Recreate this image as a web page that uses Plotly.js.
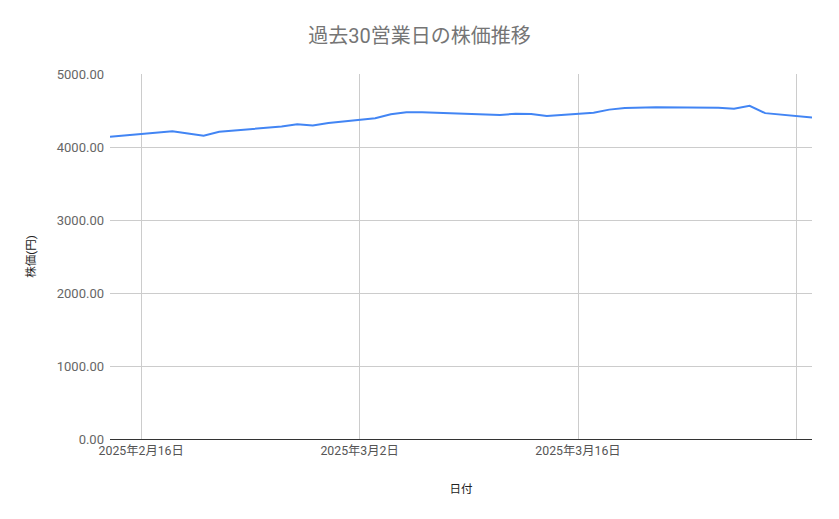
<!DOCTYPE html>
<html>
<head>
<meta charset="utf-8">
<script src="https://cdn.plot.ly/plotly-3.0.1.min.js"></script>
<style>
  body { margin: 0; background: #fff; }
  #graph { width: 839px; height: 519px; }
</style>
</head>
<body>
<div id="graph"></div>
<script>
// 営業日 (2/24, 3/20 は祝日)
var dates = [
  "2025-02-14", "2025-02-17", "2025-02-18", "2025-02-19", "2025-02-20", "2025-02-21",
  "2025-02-25", "2025-02-26", "2025-02-27", "2025-02-28",
  "2025-03-03", "2025-03-04", "2025-03-05", "2025-03-06", "2025-03-07",
  "2025-03-10", "2025-03-11", "2025-03-12", "2025-03-13", "2025-03-14",
  "2025-03-17", "2025-03-18", "2025-03-19", "2025-03-21",
  "2025-03-24", "2025-03-25", "2025-03-26", "2025-03-27", "2025-03-28",
  "2025-03-31"
]
var prices = [
  4140, 4195, 4217, 4186, 4155, 4210,
  4280, 4310, 4295, 4330,
  4393, 4448, 4477, 4477, 4468,
  4442, 4440, 4455, 4452, 4425,
  4470, 4512, 4534, 4545,
  4540, 4538, 4525, 4564, 4464,
  4404
]
var xTickVals = ["2025-02-16", "2025-03-02", "2025-03-16", "2025-03-30"]
var xTickText = ["2025年2月16日", "2025年3月2日", "2025年3月16日", ""]
var yTickVals = [0, 1000, 2000, 3000, 4000, 5000]

var trace1 = {
    x: dates,
    y: prices,
    type: "scatter",
    mode: "lines",
    name: "株価",
    line: {color: "#4285f4", width: 2},
    hoverinfo: "x+y"
}

var layout = {
    width: 839,
    height: 519,
    font: {family: "Roboto, 'Noto Sans CJK JP', sans-serif", color: "#666"},
    paper_bgcolor: "#fff",
    plot_bgcolor: "#fff",
    showlegend: false,
    margin: {l: 110, r: 27, t: 74, b: 80},
    title: {
        text: "過去30営業日の株価推移",
        font: {size: 20, color: "#757575", family: "Roboto, 'Noto Sans CJK JP', sans-serif"},
        x: 0.5,
        xanchor: "center",
        y: 0.93,
        yanchor: "middle"
    },
    xaxis: {
        type: "date",
        range: ["2025-02-14", "2025-03-31"],
        tickmode: "array",
        tickvals: xTickVals,
        ticktext: xTickText,
        tickfont: {size: 12.3, color: "#555"},
        showgrid: true,
        gridcolor: "#cccccc",
        gridwidth: 1,
        showline: true,
        linecolor: "#333",
        linewidth: 1.3,
        ticks: "",
        zeroline: false,
        title: {text: "日付", font: {size: 11.5, color: "#222"}, standoff: 28}
    },
    yaxis: {
        range: [0, 5000],
        tickmode: "array",
        tickvals: yTickVals,
        tickformat: ".2f",
        tickfont: {size: 13, color: "#666"},
        ticklabelstandoff: 5,
        showgrid: true,
        gridcolor: "#cccccc",
        gridwidth: 1,
        zeroline: false,
        showline: false,
        ticks: "",
        ticklen: 0,
        title: {text: "株価(円)", font: {size: 11.5, color: "#222"}, standoff: 18}
    }
}

Plotly.newPlot("graph", [trace1], layout, {displayModeBar: false, staticPlot: true})
</script>
</body>
</html>
